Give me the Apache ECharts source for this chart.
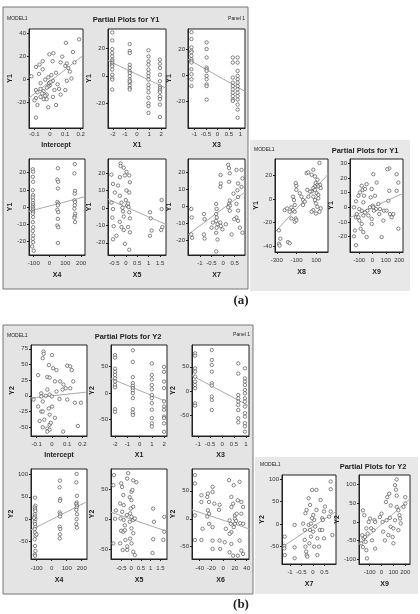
<!DOCTYPE html>
<html>
<head>
<meta charset="utf-8">
<script src="https://cdn.jsdelivr.net/npm/echarts@6/dist/echarts.min.js"></script>
<style>
  html, body { margin: 0; padding: 0; background: #fff; }
  #chart { width: 420px; height: 614px; }
</style>
</head>
<body>
<div id="chart"></div>
<script>
// ---------- panel (a): partial plots for Y1 ----------
const a1Pts = [[0.19,35],[0.104,32],[0.023,23],[-0.003,22],[0.15,24],[-0.046,16],[0.018,16],[0.07,15],[0.11,14],[0.16,15],[-0.067,13],[-0.09,11],[-0.046,9],[0.1,12],[0.12,10],[0.13,7],[0.14,1],[-0.12,3],[-0.07,5],[-0.06,-3],[-0.03,0],[-0.01,2],[0.02,-1],[0,-5],[-0.01,-6],[0.05,-4],[0.11,-1],[-0.09,-9],[-0.06,-8],[-0.04,-10],[-0.02,-13],[-0.06,-15],[-0.04,-17],[-0.09,-16],[-0.02,-17],[0.02,-15],[0.07,-13],[-0.08,-22],[-0.01,-24],[0.04,-22],[-0.09,-33],[0.1,-9],[0.03,-9],[-0.005,-3],[0.005,-2],[-0.02,-7],[-0.05,-12],[-0.03,-14],[0.04,6],[0.06,-8],[-0.1,-18],[-0.08,-11],[0.01,4],[0.08,20]];
const a1Fit = [[-0.135,-16],[0.215,21]];

const a2Pts = [[-2.05,31.5],[-2.05,25.7],[-2.05,19.4],[-2.05,16.5],[-2.05,14.1],[-2.05,11.7],[-2.05,10.5],[-2.05,9.3],[-2.05,8],[-2.05,6.9],[-2.05,4.5],[-2.05,0.8],[-2.05,-1.6],[-2.05,-2.8],[-2.05,-10],
  [-0.6,23],[-0.6,18],[-0.6,16.5],[-0.6,8],[-0.6,5.7],[-0.6,3.3],[-0.6,2],[-0.6,-0.3],[-0.6,-2.8],[-0.6,-5],[-0.6,-7],[-0.6,-9],[-0.6,-10],[-0.6,-4],
  [0.95,18.5],[0.95,14],[0.95,10.5],[0.95,8],[0.95,4.5],[0.95,2],[0.95,-0.3],[0.95,-2.8],[0.95,-6.5],[0.95,-9],[0.95,-12],[0.95,-16],[0.95,-20],[0.95,-22],[0.95,-27],
  [1.9,11.7],[1.9,8.8],[1.9,5.7],[1.9,0.8],[1.9,-4],[1.9,-7.7],[1.9,-9],[1.9,-10.6],[1.9,-12],[1.9,-15],[1.9,-17],[1.9,-21],[1.9,-30]];
const a2Fit = [[-2.4,11],[2.4,-9]];

const a3Pts = [[-1.13,33.5],[-1.13,28.2],[-1.13,21.7],[-1.13,19.1],[-1.13,17.8],[-1.13,15.2],[-1.13,12.5],[-1.13,11.2],[-1.13,9.9],[-1.13,4.7],[-1.13,0.8],[-1.13,-3.1],[-1.13,-8.4],
  [-0.47,25.6],[-0.47,20.4],[-0.47,13.8],[-0.47,6],[-0.47,4.7],[-0.47,3.4],[-0.47,-0.5],[-0.47,-3.1],[-0.47,-7.1],[-0.47,-8.4],[-0.47,-18.9],
  [0.67,13.8],[0.67,9.9],[0.67,-1.8],[0.67,-5.7],[0.67,-8.4],[0.67,-11],[0.67,-13.6],[0.67,-16.2],[0.67,-18.9],[0.67,-20],
  [0.88,13.8],[0.88,9.9],[0.88,3.4],[0.88,-0.5],[0.88,-3.1],[0.88,-5.7],[0.88,-8.4],[0.88,-11],[0.88,-13.6],[0.88,-16.2],[0.88,-18.9],[0.88,-22.8],[0.88,-26.7],[0.88,-33]];
const a3Fit = [[-1.28,12.5],[1.2,-12.5]];

const a4Pts = [[-106,22],[-104,20.6],[-106,17.6],[-104,14.7],[-106,9.8],[-104,6.9],[-106,5.5],[-104,3.9],[-106,2.3],[-104,1],[-106,0],[-104,-1],[-106,-2],[-104,-3],[-106,-3.9],[-104,-5.9],[-106,-8.8],[-104,-11.8],[-106,-14],[-104,-16.6],[-106,-18.6],[-104,-20.5],[-110,-23],[-100,-25.5],
  [53,22.6],[50,16],[55,14.7],[53,10.8],[50,2.9],[55,2],[53,1],[50,-1.6],[55,-3],[53,-6.9],[50,-10.8],[55,-11.8],[53,-21],
  [160,25],[158,19.6],[162,9.4],[160,7.8],[158,3.9],[162,2.9],[160,1],[158,-1],[162,-3.9],[160,-5.5],[158,-6.3],[162,-8.8]];
const a4Fit = [[-130,-2.5],[225,6]];

const a5Pts = [[-0.63,19],[-0.56,13.7],[-0.48,8.8],[-0.63,3],[-0.56,-0.7],[-0.59,-5.6],[-0.53,-10.5],[-0.41,-16],[-0.56,-18],[-0.34,12.8],[-0.26,17.6],[-0.23,25.5],[-0.23,24],[-0.09,23],[-0.04,18.6],[0.03,20.6],[-0.26,6.9],[-0.19,3],[-0.15,0],[-0.12,-2],[-0.09,-5],[-0.26,-8],[-0.19,-11],[-0.09,-12.7],[-0.04,-20.6],[0.06,1.5],[0.1,2.5],[0.03,10],[0,4.5],[0.15,18.6],[0.18,14.7],[0.15,8.8],[0.12,0.5],[0.15,-2.5],[0.18,-6],[0.1,-11],[0.18,-14],[0.15,-24],
  [1.06,-2.5],[1.09,-6],[1.13,-13],[1.06,-16],[1.57,4.5],[1.57,-0.7],[1.6,-11],[1.55,-12.7]];
const a5Fit = [[-0.78,5],[1.76,-9.5]];

const a6Pts = [[-1.38,-1.4],[-1.36,-6.4],[-1.38,-16.4],[-1.34,-18.4],[-0.83,-4.4],[-0.8,-7.4],[-0.83,-16.4],[-0.8,-18.8],[-0.3,1.6],[-0.28,-1.4],[-0.3,-4.4],[-0.27,-6.4],[-0.3,-8.4],[-0.24,-10.4],[-0.28,-12.4],[-0.3,-15.4],[-0.24,-19.4],[-0.3,-26.4],[-0.11,18.6],[-0.1,13.6],[-0.12,11.6],[-0.12,-9.4],[-0.1,-11.4],[-0.03,-13.4],[0.12,-10.4],[0.22,24.6],[0.26,22.6],[0.29,19.6],[0.26,14.6],[0.29,3.6],[0.26,1.6],[0.3,0.6],[0.22,-0.4],[0.29,-2.4],[0.37,-16.4],[0.58,21.6],[0.65,13.6],[0.62,9.6],[0.65,5.6],[0.58,1.6],[0.65,-2.4],[0.58,-6.4],[0.65,-8.4],[0.73,-12.4],[0.8,21.6],[0.84,16.6],[0.8,11.6],[0.84,-15.4],[0.48,-7.4],[0.45,7.6],[-0.44,-9.4],[-0.5,-12.4]];
const a6Fit = [[-1.52,-16.5],[0.95,8.5]];

const a7Pts = [[-278,-26.6],[-264,-33.7],[-278,-38],[-272,-39.5],[-186,-36.6],[-169,-37.5],[-220,-9.4],[-196,-8],[-169,-10.8],[-152,-7.2],[-135,-9.4],[-118,-5.1],[-125,-0.9],[-135,2],[-107,13.5],[-101,11.2],[-101,7.8],[-118,-10.8],[-107,-16.5],[-118,-19.3],[-101,-18],[-152,-16.5],[-67,4.9],[-50,2],[-33,-0.9],[-16,-2.3],[-33,-5.1],[3,22],[20,22.6],[54,20.6],[71,24.9],[88,19.2],[112,16.4],[133,30.7],[95,13.5],[112,12],[140,12],[122,10.7],[146,9.3],[88,10.7],[71,9.3],[54,6.4],[88,7.8],[105,4.9],[122,3.5],[71,2],[88,-0.9],[98,-3.8],[71,-9.4],[112,-6.6],[146,-8],[122,0.6],[37,6.4],[20,2],[54,-10.8],[133,-10.8],[98,-12.3],[10,7.8]];
const a7Fit = [[-305,-27],[220,21]];

const a8Pts = [[-124,-25.9],[-139,-19.8],[-132,-15.8],[-124,-6.8],[-119,-4.6],[-139,0],[-124,4.1],[-106,7.9],[-94,10.2],[-81,14.7],[-74,11.8],[-56,12.5],[-64,7.9],[-44,15.8],[-69,3.4],[-81,-2.3],[-99,-9],[-89,-14.6],[-69,-16.9],[-44,-20.3],[-31,-5.6],[-39,-2.3],[-19,0],[-14,6.8],[-6,12.5],[2,1.1],[-6,-7.9],[-6,-11.3],[6,22.6],[19,7.9],[26,-1.2],[31,16.9],[44,2.3],[56,-1.2],[51,-4.6],[69,-20.3],[81,-9],[86,-2.3],[106,-2.3],[119,4.5],[126,11.3],[131,-4.6],[144,-6.8],[156,-4.6],[126,26.6],[111,26],[181,22.6],[194,16.9],[181,11.3],[194,-14.6],[-81,-11.3],[-106,-6.8],[-99,-1.2],[-69,-5.6],[-56,-3.5],[6,0],[11,-2.3]];
const a8Fit = [[-169,-7],[229,9.5]];

// ---------- panel (b): partial plots for Y2 ----------
const b1Pts = [[-0.055,70.6],[-0.054,67],[-0.06,60],[0.001,65],[-0.02,49],[0.008,44],[0.03,41],[-0.09,33],[-0.03,30],[-0.015,29],[0.02,23],[0.054,23],[0.076,18],[0.1,48],[0.12,47],[0.13,41],[0.14,23],[0.12,12],[0.09,12],[0.07,10],[0.03,7],[-0.03,10],[-0.07,4],[-0.12,-6],[-0.04,0],[-0.015,2],[0,-1],[-0.07,-1],[-0.06,-9],[-0.09,-17],[-0.07,-25],[-0.06,-25],[-0.02,-20],[0.001,-17],[-0.015,-30],[0.02,-35],[-0.05,-38],[-0.06,-50],[-0.03,-52],[-0.015,-46],[-0.007,-43],[-0.015,-54],[0.1,-6],[0.15,-11],[0.19,-11],[0.17,-48],[0.074,-57],[-0.08,-40],[-0.03,-57],[0.05,-5]];
const b1Fit = [[-0.137,-3.5],[0.23,6]];

const b2Pts = [[-2,71.7],[-2,67],[-2,46],[-2,40],[-2,34],[-2,27.8],[-2,21.5],[-2,15],[-2,10.5],[-2,-31],[-2,-36],
  [-0.55,81],[-0.55,58.9],[-0.55,29.9],[-0.55,18.5],[-0.55,13.4],[-0.55,9],[-0.55,4.5],[-0.55,-0.5],[-0.55,-10],[-0.55,-31],[-0.55,-37.7],[-0.55,-42],
  [1,55.8],[1,34],[1,25.7],[1,15],[1,6.8],[1,-4],[1,-10],[1,-19.5],[1,-32],[1,-48],[1,-58],[1,-64],
  [2,49.4],[2,40],[2,21.5],[2,9],[2,-16],[2,-26],[2,-32],[2,-45],[2,-48],[2,-58],[2,-74]];
const b2Fit = [[-2.33,27],[2.24,-17]];

const b3Pts = [[-1.13,77.8],[-1.13,73],[-1.13,46.8],[-1.13,39.9],[-1.13,29.6],[-1.13,19.3],[-1.13,12.4],[-1.13,5.6],[-1.13,-25.5],[-1.13,-30.2],
  [-0.43,84.7],[-0.43,64],[-0.43,53.7],[-0.43,39.9],[-0.43,15.9],[-0.43,11.3],[-0.43,-11.7],[-0.43,-18.5],[-0.43,-39.3],
  [0.68,57],[0.68,36],[0.68,-8.3],[0.68,-15.2],[0.68,-22],[0.68,-29],[0.68,-39.3],[0.68,-56.5],[0.68,-64.8],
  [0.96,46.8],[0.96,26],[0.96,19.3],[0.96,12.4],[0.96,2],[0.96,-4.8],[0.96,-15.2],[0.96,-22],[0.96,-32.3],[0.96,-46],[0.96,-53],[0.96,-66.5],[0.96,-73],[0.96,-84]];
const b3Fit = [[-1.26,32],[1.13,-31]];

const b4Pts = [[-111,48],[-109,30],[-113,26],[-111,22],[-109,18],[-113,11],[-111,6],[-109,0],[-113,-6],[-111,-11],[-109,-17],[-113,-22],[-111,-30],[-109,-37],[-113,-45],[-111,-60],[-109,-71],[-113,-79],[-111,-82],[-118,3],[-101,-34],
  [55,86],[53,71],[57,45],[55,41],[53,15],[57,11],[55,6],[53,-17],[57,-22],[55,-34],[53,-43],
  [166,101],[164,82],[168,52],[166,37],[164,34],[168,30],[166,26],[164,20.6],[168,11],[166,0],[164,-11],[168,-19]];
const b4Fit = [[-138,-24],[235,39]];

const b5Pts = [[-0.88,73.8],[-0.91,57],[-0.78,15],[-0.82,1],[-0.91,-40],[-0.51,60],[-0.46,54],[-0.4,40.5],[-0.56,26.6],[-0.38,23.7],[-0.46,12.7],[-0.54,1.6],[-0.38,-1],[-0.51,-19],[-0.4,-20.6],[-0.32,-18],[-0.56,-40],[-0.43,-51],[-0.29,-34.4],[-0.2,-45],[-0.32,-9.9],[-0.15,77],[-0.2,68],[0.11,65],[0.02,46],[-0.07,37],[0.02,32],[0.11,21],[-0.02,18],[-0.05,10],[-0.22,7.3],[0.02,4.4],[0.11,-1],[-0.07,-4],[0.02,-15],[0.11,-23],[-0.05,-32],[0.02,-40],[-0.2,-51],[0.11,-54],[0.19,-59.5],[0.27,62],[0.07,49],[0.19,1.6],
  [1.13,18],[1.17,-4],[1.13,-33],[1.1,-56],[1.7,4.4],[1.7,-20.6],[1.65,-34]];
const b5Fit = [[-1.03,12],[1.84,-20]];

const b6Pts = [[-48,78],[-48,63],[-48,6],[-48,-38],[-37,-38],[-37,42],[-37,30],[-35,-18],[-26,45],[-24,30],[-26,15],[-24,9],[-27,4],[-24,-9],[-27,39],[-18,57],[-18,48],[-15,27],[-18,-15],[-18,-39],[-18,-54],[-6,25],[-7,16],[-6,-39],[-5,-54],[2.7,-42],[4.6,-18],[10,69],[14,39],[14,21],[11,-3],[13,-9],[14,-24],[11,-27],[14,-45],[11,-60],[17,-66],[18,60],[20,6],[20,0],[22,-4],[20,-9],[18,-15],[17,27],[25,33],[28,66],[31,30],[31,9],[29,-8],[34,-9],[28,-39],[31,-57],[34,-63],[25,-66],[34,21],[23,9]];
const b6Fit = [[-53,16],[44,-18]];

const b7Pts = [[-1.23,-28.5],[-1.25,-49.5],[-1.25,-54.8],[-1.23,-70],[-0.8,-2.3],[-0.8,-52.5],[-0.8,-77],[-0.36,-13.5],[-0.36,-36],[-0.33,-51],[-0.3,-62],[-0.28,-70],[-0.25,-73.5],[-0.33,24],[-0.28,31.5],[-0.19,57.8],[-0.13,42.8],[-0.19,-2.3],[-0.13,-13.5],[-0.09,-28.5],[-0.04,76.5],[0.01,20],[0.05,9],[0.09,-6],[-0.04,12.8],[0.15,76.5],[0.15,31.5],[0.19,-32.3],[0.26,-51],[0.29,-13.5],[0.33,54],[0.4,12.8],[0.43,9],[0.4,-13.5],[0.48,-32.3],[0.52,39],[0.48,28],[0.7,16.5],[0.77,28],[0.77,95.3],[0.77,78],[0.84,-24.8],[0.19,-70],[0.05,-51],[-0.16,-43.5],[0.01,-17.3],[-0.43,0.8],[-0.09,0.8]];
const b7Fit = [[-1.35,-52],[1,28]];

const b8Pts = [[-157,31],[-145,18],[-162,-35.5],[-151,-44],[-171,-57],[-134,-53],[-128,-75],[-123,-97],[-157,-67],[-117,-31],[-108,0],[-97,9],[-128,-17],[-140,-40],[-80,-49],[-88,-17],[-60,4.5],[-54,0],[-54,-71],[-68,-22],[0,22],[9,0],[14,-26],[43,4.5],[37,53],[48,66],[65,75],[77,44],[71,11],[77,-13],[100,-17],[57,-35],[94,-40],[114,98],[122,86],[128,113],[128,70],[128,40],[142,31],[151,18],[157,9],[114,4.5],[185,40],[200,66],[200,49],[162,-4],[100,-57],[142,-22],[28,-49],[-14,13]];
const b8Fit = [[-190,-60],[240,62]];

// tick values per axis
const ticksIntercept = [-0.1, 0, 0.1, 0.2];
const ticksX1 = [-2, -1, 0, 1, 2];
const ticksX3 = [-1, -0.5, 0, 0.5, 1];
const ticksX4 = [-100, 0, 100, 200];
const ticksX5 = [-0.5, 0, 0.5, 1, 1.5];
const ticksX6 = [-40, -20, 0, 20, 40];
const ticksX7 = [-1, -0.5, 0, 0.5];
const ticksX8 = [-300, -100, 100];
const ticksX9 = [-100, 0, 100, 200];

// plot list: names, points, fitted line, axis extents, ticks
const plots = [
  { x: 'Intercept', y: 'Y1', pts: a1Pts, fit: a1Fit, xr: [-0.135, 0.215], yr: [-42, 44], xt: ticksIntercept, yt: [-20, 0, 20, 40] },
  { x: 'X1', y: 'Y1', pts: a2Pts, fit: a2Fit, xr: [-2.4, 2.4], yr: [-38, 34], xt: ticksX1, yt: [-20, 0, 20] },
  { x: 'X3', y: 'Y1', pts: a3Pts, fit: a3Fit, xr: [-1.28, 1.2], yr: [-41, 36], xt: ticksX3, yt: [-20, 0, 20] },
  { x: 'X4', y: 'Y1', pts: a4Pts, fit: a4Fit, xr: [-130, 225], yr: [-28, 28], xt: ticksX4, yt: [-20, -10, 0, 10, 20] },
  { x: 'X5', y: 'Y1', pts: a5Pts, fit: a5Fit, xr: [-0.78, 1.76], yr: [-27, 28], xt: ticksX5, yt: [-20, -10, 0, 10, 20] },
  { x: 'X7', y: 'Y1', pts: a6Pts, fit: a6Fit, xr: [-1.52, 0.95], yr: [-28.5, 28], xt: ticksX7, yt: [-20, -10, 0, 10, 20] },
  { x: 'X8', y: 'Y1', pts: a7Pts, fit: a7Fit, xr: [-318, 220], yr: [-45, 34], xt: ticksX8, yt: [-40, -20, 0, 20] },
  { x: 'X9', y: 'Y1', pts: a8Pts, fit: a8Fit, xr: [-169, 229], yr: [-30.5, 33], xt: ticksX9, yt: [-20, -10, 0, 10, 20, 30] },
  { x: 'Intercept', y: 'Y2', pts: b1Pts, fit: b1Fit, xr: [-0.137, 0.23], yr: [-64, 81], xt: ticksIntercept, yt: [-50, -25, 0, 25, 50, 75] },
  { x: 'X1', y: 'Y2', pts: b2Pts, fit: b2Fit, xr: [-2.33, 2.24], yr: [-82, 91], xt: ticksX1, yt: [-50, 0, 50] },
  { x: 'X3', y: 'Y2', pts: b3Pts, fit: b3Fit, xr: [-1.26, 1.13], yr: [-93, 95], xt: ticksX3, yt: [-50, 0, 50] },
  { x: 'X4', y: 'Y2', pts: b4Pts, fit: b4Fit, xr: [-138, 235], yr: [-89, 112], xt: ticksX4, yt: [-50, 0, 50, 100] },
  { x: 'X5', y: 'Y2', pts: b5Pts, fit: b5Fit, xr: [-1.03, 1.84], yr: [-66, 84], xt: ticksX5, yt: [-50, 0, 50] },
  { x: 'X6', y: 'Y2', pts: b6Pts, fit: b6Fit, xr: [-53, 44], yr: [-72, 89], xt: ticksX6, yt: [-50, 0, 50] },
  { x: 'X7', y: 'Y2', pts: b7Pts, fit: b7Fit, xr: [-1.35, 1], yr: [-90, 110], xt: ticksX7, yt: [-50, 0, 50, 100] },
  { x: 'X9', y: 'Y2', pts: b8Pts, fit: b8Fit, xr: [-190, 240], yr: [-112, 125], xt: ticksX9, yt: [-100, -50, 0, 50, 100] }
];

// layout: [left, top, width, height, tick label gap, axis name gap]
const layout = [
  [29, 29, 54, 99, 3, 14], [108, 29, 58, 99, 3, 14], [188, 29, 57, 99, 3, 14],
  [29, 159, 56, 96, 5, 17], [108, 159, 58, 96, 5, 17], [188, 159, 57, 96, 5, 17],
  [275, 159, 53, 93, 5, 17], [350, 159, 53, 93, 5, 17],
  [31, 345, 56, 91, 5, 16], [111, 345, 56, 91, 5, 16], [192, 345, 57, 91, 5, 16],
  [31, 469, 56, 90, 6, 18], [111, 469, 56, 90, 6, 18], [192, 469, 57, 90, 6, 18],
  [282, 475, 54, 89, 5, 17], [359, 475, 51, 89, 5, 17]
];

const FONT = '"Liberation Sans Narrow", "Liberation Sans", Arial, sans-serif';
const grids = [], xAxes = [], yAxes = [], series = [];

plots.forEach((p, i) => {
  const L = layout[i];
  grids.push({ left: L[0], top: L[1], width: L[2], height: L[3], show: true, backgroundColor: '#fff', borderColor: '#222', borderWidth: 1 });
  xAxes.push({
    type: 'value', gridIndex: i, min: p.xr[0], max: p.xr[1],
    name: p.x, nameLocation: 'middle', nameGap: L[5],
    nameTextStyle: { fontFamily: FONT, fontSize: 7, fontWeight: 'bold', color: '#222' },
    axisLine: { show: true, onZero: false, lineStyle: { color: '#222', width: 1 } },
    axisTick: { show: true, length: 2, customValues: p.xt, lineStyle: { color: '#222' } },
    axisLabel: { customValues: p.xt, fontFamily: FONT, fontSize: 6, color: '#333', margin: L[4] },
    splitLine: { show: false }
  });
  yAxes.push({
    type: 'value', gridIndex: i, min: p.yr[0], max: p.yr[1],
    name: p.y, nameLocation: 'middle', nameGap: 14, nameRotate: 90,
    nameTextStyle: { fontFamily: FONT, fontSize: 7, fontWeight: 'bold', color: '#222' },
    axisLine: { show: true, onZero: false, lineStyle: { color: '#222', width: 1 } },
    axisTick: { show: true, length: 2, customValues: p.yt, lineStyle: { color: '#222' } },
    axisLabel: { customValues: p.yt, fontFamily: FONT, fontSize: 6, color: '#333', margin: 3 },
    splitLine: { show: false }
  });
  series.push({
    type: 'line', xAxisIndex: i, yAxisIndex: i, data: p.fit, showSymbol: false, silent: true,
    lineStyle: { color: '#aaa', width: 1 }, z: 1
  });
  series.push({
    type: 'scatter', xAxisIndex: i, yAxisIndex: i, data: p.pts, silent: true,
    symbol: 'circle', symbolSize: 3.4,
    itemStyle: { color: '#fff', borderColor: '#444', borderWidth: 0.8 }, z: 2
  });
});

const txt = (x, y, text, size, align, weight, family) => ({
  type: 'text', x: x, y: y, z: 20,
  style: { text: text, fill: '#222', font: (weight || 'normal') + ' ' + size + 'px ' + (family || FONT), textAlign: align, textVerticalAlign: 'middle' }
});

const graphic = [
  { type: 'rect', z: -10, shape: { x: 3, y: 7, width: 245, height: 282 }, style: { fill: '#e4e4e4', stroke: '#777', lineWidth: 1 } },
  { type: 'rect', z: -10, shape: { x: 250, y: 140, width: 160, height: 151 }, style: { fill: '#e8e8e8' } },
  { type: 'rect', z: -10, shape: { x: 3, y: 325, width: 250, height: 269 }, style: { fill: '#e4e4e4', stroke: '#777', lineWidth: 1 } },
  { type: 'rect', z: -10, shape: { x: 255, y: 457, width: 163, height: 137 }, style: { fill: '#e8e8e8' } },
  txt(7, 19, 'MODEL1', 5, 'left'),
  txt(126, 20, 'Partial Plots for Y1', 7.5, 'center', 'bold'),
  txt(245, 19, 'Panel 1', 5, 'right'),
  txt(254, 150, 'MODEL1', 5, 'left'),
  txt(365, 151, 'Partial Plots for Y1', 7.5, 'center', 'bold'),
  txt(7, 336, 'MODEL1', 5, 'left'),
  txt(128, 337, 'Partial Plots for Y2', 7.5, 'center', 'bold'),
  txt(250, 335, 'Panel 1', 5, 'right'),
  txt(260, 465, 'MODEL1', 5, 'left'),
  txt(373, 467, 'Partial Plots for Y2', 7.5, 'center', 'bold'),
  txt(241, 301, '(a)', 13, 'center', 'bold', '"Liberation Serif", serif'),
  txt(241, 605, '(b)', 13, 'center', 'bold', '"Liberation Serif", serif')
];

const chart = echarts.init(document.getElementById('chart'), null, { renderer: 'canvas' });
chart.setOption({
  animation: false,
  backgroundColor: '#fff',
  graphic: graphic,
  grid: grids,
  xAxis: xAxes,
  yAxis: yAxes,
  series: series
});
</script>
</body>
</html>
